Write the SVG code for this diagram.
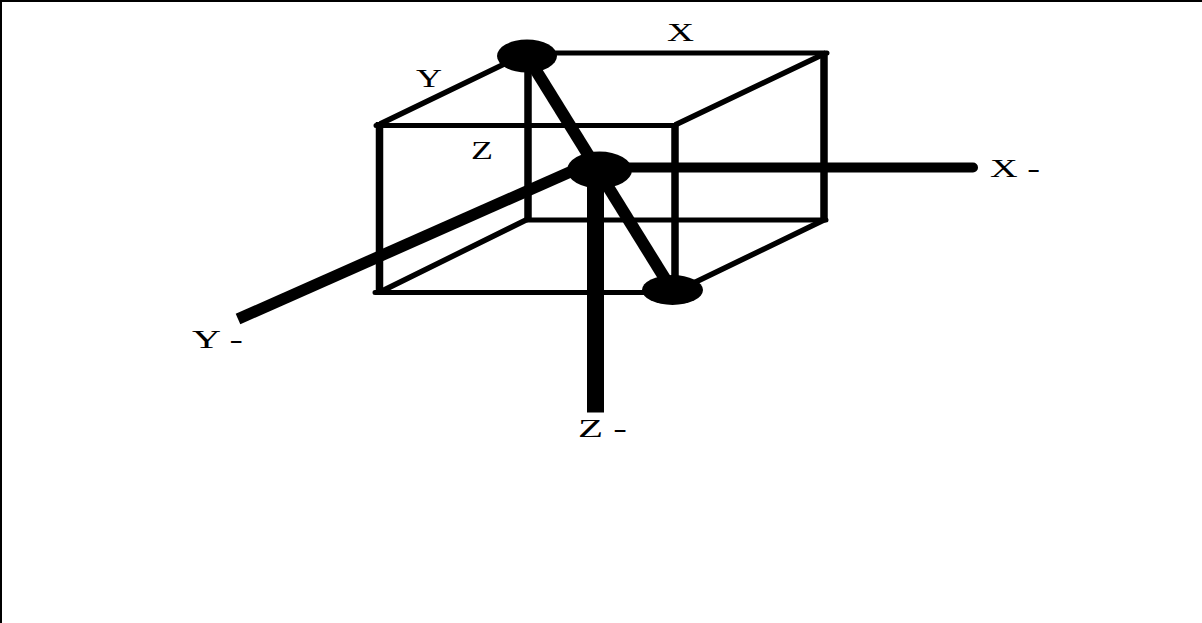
<svg xmlns="http://www.w3.org/2000/svg" width="1202" height="623" viewBox="0 0 1202 623">
<style>
.h{stroke:#000;stroke-width:5;fill:none;stroke-linecap:round}
.v{stroke:#000;stroke-width:7.5;fill:none;stroke-linecap:butt}
.s{stroke:#000;stroke-width:5.5;fill:none;stroke-linecap:butt}
.n{fill:#000}
text{font-family:"Liberation Serif",serif;font-size:26px;fill:#000}
</style>
<rect width="1202" height="623" fill="#fff"/>
<path d="M1 623V1H1202" fill="none" stroke="#000" stroke-width="2"/>
<g id="connectors">
<path class="h" d="M376 125.500H675M375 292.500H672M527 53H827M527 220H826"/>
<path class="v" d="M379.500 122V292M528 56V220M675 125V285M824 53V221"/>
<path class="s" d="M380 124L527 53M675 125L826 53M380 292L528 219M675 292L826 219"/>
<path d="M527 56L672 290" fill="none" stroke="#000" stroke-width="12"/>
<path d="M600 167.500H973" fill="none" stroke="#000" stroke-width="10" stroke-linecap="round"/>
<path d="M570 172L238 319" fill="none" stroke="#000" stroke-width="11.500"/>
<path d="M595.500 170V412.500" fill="none" stroke="#000" stroke-width="17"/>
</g>
<g id="node-top"><ellipse class="n" cx="527" cy="56" rx="30" ry="16.500"/></g>
<g id="node-center"><ellipse class="n" cx="599.500" cy="170" rx="32.500" ry="18.500"/></g>
<g id="node-bottom"><ellipse class="n" cx="672.500" cy="290" rx="30.500" ry="15"/></g>
<g id="labels">
<text x="667" y="41" textLength="27" lengthAdjust="spacingAndGlyphs">X</text>
<text x="416" y="87" textLength="26" lengthAdjust="spacingAndGlyphs">Y</text>
<text x="471" y="159" textLength="22" lengthAdjust="spacingAndGlyphs">Z</text>
<text x="990" y="177" textLength="50" lengthAdjust="spacingAndGlyphs">X -</text>
<text x="192" y="348" textLength="51" lengthAdjust="spacingAndGlyphs">Y -</text>
<text x="578" y="437" textLength="49" lengthAdjust="spacingAndGlyphs">Z -</text>
</g>
</svg>
